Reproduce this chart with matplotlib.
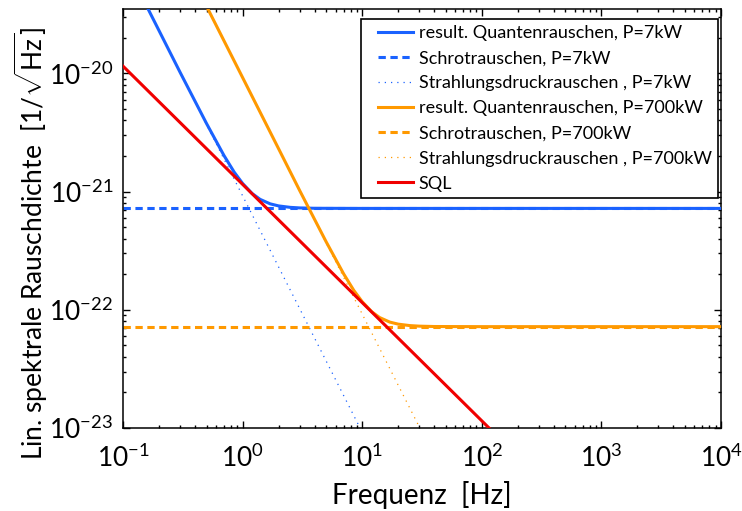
import matplotlib
matplotlib.use("Agg")
import matplotlib.pyplot as plt
from matplotlib.lines import Line2D
from matplotlib.legend_handler import HandlerLine2D
from matplotlib.ticker import LogLocator, NullFormatter, LogFormatterMathtext

plt.rcParams["font.family"] = ["Lato", "DejaVu Sans"]
plt.rcParams["mathtext.fontset"] = "custom"
plt.rcParams["mathtext.rm"] = "Lato"
plt.rcParams["mathtext.it"] = "Lato:italic"
plt.rcParams["mathtext.bf"] = "Lato:bold"

# values
freq_7kw = [0.16, 0.3, 0.5, 0.7, 0.85, 1.0, 1.2, 1.4, 1.7, 2.0, 2.5, 3.0, 4.0, 6.0, 10.0, 1e4]
quant_7kw = [3.59e-20, 1.02e-20, 3.75e-21, 2.01e-21, 1.46e-21, 1.17e-21, 9.63e-22, 8.59e-22,
             7.87e-22, 7.56e-22, 7.35e-22, 7.27e-22, 7.22e-22, 7.21e-22, 7.2e-22, 7.2e-22]
freq_700kw = [0.5, 1.0, 2.0, 3.0, 5.0, 7.0, 8.5, 10.0, 12.0, 14.0, 17.0, 20.0, 25.0, 30.0,
              40.0, 60.0, 100.0, 1e4]
quant_700kw = [3.68e-20, 9.2e-21, 2.3e-21, 1.02e-21, 3.75e-22, 2.01e-22, 1.46e-22, 1.17e-22,
               9.63e-23, 8.59e-23, 7.87e-23, 7.56e-23, 7.35e-23, 7.27e-23, 7.22e-23, 7.21e-23,
               7.2e-23, 7.2e-23]
freq_shot = [0.1, 1e4]
shot_7kw = [7.2e-22, 7.2e-22]
shot_700kw = [7.2e-23, 7.2e-23]
freq_rp = [0.1, 100.0]
rp_7kw = [9.2e-20, 9.2e-26]
rp_700kw = [9.2e-19, 9.2e-25]
freq_sql = [0.1, 1e4]
sql = [1.15e-20, 1.15e-25]

x_ticks = [0.1, 1, 10, 100, 1000, 10000]
y_ticks = [1e-23, 1e-22, 1e-21, 1e-20]

labels = [
    "result. Quantenrauschen, P=7kW",
    "Schrotrauschen, P=7kW",
    "Strahlungsdruckrauschen , P=7kW",
    "result. Quantenrauschen, P=700kW",
    "Schrotrauschen, P=700kW",
    "Strahlungsdruckrauschen , P=700kW",
    "SQL",
]

blue = "#1a62ff"
orange = "#ff9900"
red = "#f00000"
lw = 2.2
dashed = (0, (2.4, 1.5))
dotted = (0, (1, 4))

fig = plt.figure(figsize=(7.42, 5.11), dpi=100)
ax = fig.add_axes([0.1658, 0.1624, 0.8059, 0.82])

ax.plot(freq_7kw, quant_7kw, color=blue, lw=lw, label=labels[0], zorder=3)
ax.plot(freq_shot, shot_7kw, color=blue, lw=lw, ls=dashed, label=labels[1], zorder=2)
ax.plot(freq_rp, rp_7kw, color=blue, lw=0.9, ls=dotted, label=labels[2], zorder=1)
ax.plot(freq_700kw, quant_700kw, color=orange, lw=lw, label=labels[3], zorder=4)
ax.plot(freq_shot, shot_700kw, color=orange, lw=lw, ls=dashed, label=labels[4], zorder=2)
ax.plot(freq_rp, rp_700kw, color=orange, lw=0.9, ls=dotted, label=labels[5], zorder=1)
ax.plot(freq_sql, sql, color=red, lw=lw, label=labels[6], zorder=5)

ax.set_xscale("log")
ax.set_yscale("log")
ax.set_xticks(x_ticks)
ax.set_yticks(y_ticks)
ax.xaxis.set_major_formatter(LogFormatterMathtext())
ax.yaxis.set_major_formatter(LogFormatterMathtext())
ax.xaxis.set_minor_locator(LogLocator(base=10, subs=range(2, 10), numticks=20))
ax.yaxis.set_minor_locator(LogLocator(base=10, subs=range(2, 10), numticks=20))
ax.xaxis.set_minor_formatter(NullFormatter())
ax.yaxis.set_minor_formatter(NullFormatter())
ax.set_xlim(0.1, 1e4)
ax.set_ylim(1e-23, 3.5e-20)

ax.tick_params(which="both", direction="in", top=True, right=True, labelsize=19, width=1)
ax.tick_params(which="major", length=5)
ax.tick_params(which="minor", length=2.5)
ax.tick_params(axis="x", which="major", pad=12)
ax.tick_params(axis="y", which="major", pad=7)
for sp in ax.spines.values():
    sp.set_linewidth(1.1)

ax.set_xlabel("Frequenz  [Hz]", fontsize=20, labelpad=6)
ax.set_ylabel(r"Lin. spektrale Rauschdichte  [1/$\sqrt{\mathrm{Hz}}$]", fontsize=19)
ax.yaxis.set_label_coords(-0.122, 0.44)

leg = ax.legend(loc="upper right", bbox_to_anchor=(0.995, 0.976), fontsize=13,
                frameon=True, fancybox=False, edgecolor="black", framealpha=1,
                handlelength=2.55, handletextpad=0.3, labelspacing=0.5,
                borderpad=0.35, borderaxespad=0,
                handler_map={Line2D: HandlerLine2D(xpad=0.6)})
leg.get_frame().set_linewidth(1.2)

fig.savefig("out.png", dpi=100)
